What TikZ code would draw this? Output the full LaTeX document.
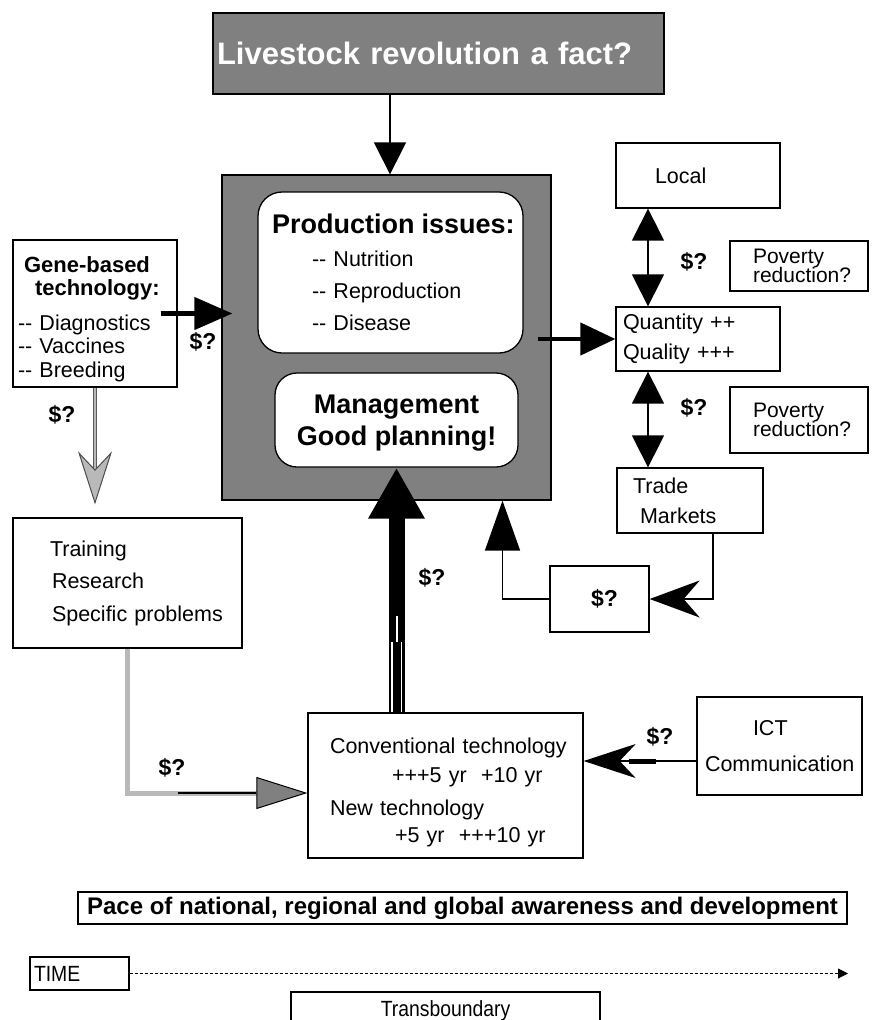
\documentclass[tikz,border=0pt]{standalone}
\usepackage{fontspec}
\setmainfont{Liberation Sans}
\newfontfamily\narrowfont[FakeStretch=0.88]{Liberation Sans}
\usetikzlibrary{arrows.meta}
\definecolor{boxgrey}{RGB}{128,128,128}
\definecolor{pathgrey}{RGB}{185,185,185}
\setlength{\lineskiplimit}{-30pt}

\begin{document}
\begin{tikzpicture}[x=1pt,y=-1pt,
    price/.style={font=\bfseries\fontsize{23pt}{23pt}\selectfont,inner sep=0pt},
    link/.style={line width=1.5pt},
    bighead/.style={-{Triangle[length=32pt,width=32pt]}},
    twohead/.style={{Triangle[length=32pt,width=32pt]}-{Triangle[length=32pt,width=32pt]}}]
    \tikzstyle{box}=[draw,fill=white,line width=1.3pt,inner xsep=4pt,inner ysep=0pt,align=left,
        font=\fontsize{21.5pt}{30pt}\selectfont]
    \tikzstyle{roundbox}=[box,rounded corners=24pt]
    \tikzstyle{tight}=[font={\fontsize{21pt}{18.5pt}\selectfont\lineskiplimit=-30pt\lineskip=0pt}]

    \useasboundingbox (0,0) rectangle (874,1020);

    \node[box,fill=boxgrey,text=white,minimum width=451pt,minimum height=81pt,text width=443pt,
        font=\bfseries\fontsize{31pt}{31pt}\selectfont] (title) at (438.5,53.5) {Livestock revolution a fact?};
    \node[box,fill=boxgrey,minimum width=329pt,minimum height=325pt] (centre) at (386.5,337.5) {};
    \node[roundbox,minimum width=265pt,minimum height=161pt,text width=257pt,
        font=\fontsize{21.5pt}{32pt}\selectfont] (prod) at (390.5,272.5)
        {\hspace*{10pt}{\bfseries\fontsize{27pt}{32pt}\selectfont Production issues:}\\[1pt]
         \hspace*{50pt}-{}- Nutrition\\ \hspace*{50pt}-{}- Reproduction\\ \hspace*{50pt}-{}- Disease};
    \node[roundbox,rounded corners=22pt,minimum width=243pt,minimum height=94pt,align=center,
        font=\bfseries\fontsize{27pt}{32pt}\selectfont] (mgmt) at (396.5,420) {\rule{0pt}{24pt}Management\\Good planning!};

    \node[box,minimum width=164pt,minimum height=147pt,text width=156pt,
        font=\fontsize{21.5pt}{23.5pt}\selectfont] (gene) at (95,313.5)
        {\rule{0pt}{27pt}\hspace*{7pt}{\bfseries\fontsize{22pt}{23.5pt}\selectfont Gene-based}\\
         \hspace*{18pt}{\bfseries\fontsize{22pt}{23.5pt}\selectfont technology:}\\[11pt]
         \hspace*{1pt}-{}- Diagnostics\\ \hspace*{1pt}-{}- Vaccines\\ \hspace*{1pt}-{}- Breeding};
    \node[box,minimum width=229pt,minimum height=130pt,text width=221pt,
        font=\fontsize{21.5pt}{32.5pt}\selectfont] (training) at (127.5,583)
        {\hspace*{33pt}Training\\ \hspace*{35pt}Research\\ \hspace*{35pt}Specific problems};
    \node[box,minimum width=275pt,minimum height=145pt,text width=267pt] (conv) at (445.5,785.5)
        {\rule{0pt}{30pt}\hspace*{18pt}Conventional technology\\[-1pt] \hspace*{80pt}+++5 yr\ \ +10 yr\\[3pt]
         \hspace*{18pt}New technology\\[-3pt] \hspace*{83pt}+5 yr\ \ +++10 yr};
    \node[box,minimum width=165pt,minimum height=98pt,text width=157pt] (ict) at (779.5,746)
        {\hspace*{52pt}ICT\\[6pt]\hspace*{4pt}Communication};

    \node[box,minimum width=164pt,minimum height=65pt,text width=156pt] (local) at (698,175.5) {\hspace*{35pt}Local};
    \node[box,minimum width=164pt,minimum height=64pt,text width=156pt] (quantity) at (698,339)
        {\hspace*{3pt}Quantity ++\\ \hspace*{3pt}Quality +++};
    \node[box,minimum width=146pt,minimum height=65pt,text width=138pt] (trade) at (690,500.5)
        {\hspace*{12pt}Trade\\ \hspace*{19pt}Markets};
    \node[box,tight,minimum width=138pt,minimum height=50pt,text width=130pt] (poverty1) at (799,266)
        {\hspace*{19pt}Poverty\\ \hspace*{19pt}reduction?};
    \node[box,tight,minimum width=138pt,minimum height=66pt,text width=130pt] (poverty2) at (799,420)
        {\hspace*{19pt}Poverty\\ \hspace*{19pt}reduction?};
    \node[box,minimum width=99pt,minimum height=66pt,text width=91pt,
        font=\bfseries\fontsize{23pt}{23pt}\selectfont] (moneybox) at (599.5,599) {\hspace*{37pt}\$?};

    \node[box,minimum width=769pt,minimum height=32pt,
        font=\bfseries\fontsize{24pt}{24pt}\selectfont] (pace) at (462.5,908)
        {Pace of national, regional and global awareness and development};
    \node[box,minimum width=99pt,minimum height=33pt,text width=91pt,
        font=\narrowfont\fontsize{22pt}{22pt}\selectfont] (time) at (79.5,973.5) {TIME};
    \node[box,minimum width=309pt,minimum height=40pt,align=center,
        font=\narrowfont\fontsize{22pt}{22pt}\selectfont] (trans) at (445.5,1012) {\raisebox{7pt}{Transboundary}};

    \node[price] (geneprice) at (203,342) {\$?};
    \node[price] (trainprice) at (62,415) {\$?};
    \node[price] (localprice) at (694,262) {\$?};
    \node[price] (tradeprice) at (694,408) {\$?};
    \node[price] (convprice) at (432,578) {\$?};
    \node[price] (skillprice) at (172,768) {\$?};
    \node[price] (ictprice) at (660,737) {\$?};

    \draw[link,bighead] ([xshift=3.5pt]centre.north |- title.south) -- ([xshift=3.5pt]centre.north);
    \draw[line width=4.5pt,-{Triangle[length=38pt,width=32pt]}] ([xshift=-17pt]gene.east) -- ([xshift=11pt]gene.east -| centre.west);
    \draw[line width=4.5pt,-{Triangle[length=35pt,width=32pt]}] ([xshift=-14pt]centre.east |- quantity.west) -- (quantity.west);

    \coordinate (genetip) at ([yshift=13pt]gene.south |- training.north);
    \draw[draw=gray!70!black,double=pathgrey,double distance=2pt,line width=1pt,
        -{Stealth[length=53pt,width=34pt,inset=18pt,color=gray!60!black,fill=pathgrey,line width=1pt]}] (gene.south) -- (genetip);

    \draw[line width=5pt,pathgrey,-{Triangle[length=51pt,width=32pt,color=black,fill=boxgrey,line width=1pt]}]
        (training.south) |- ([yshift=-7.5pt]conv.west);
    \draw[line width=2.5pt] ([xshift=50pt,yshift=-7.5pt]training.south |- conv.west) -- ([xshift=-51pt,yshift=-7.5pt]conv.west);

    \draw[line width=16pt,-{Triangle[length=51pt,width=53pt]}] (mgmt.south |- conv.north) -- (mgmt.south);
    \draw[white,line width=2pt] ([yshift=96pt]mgmt.south |- conv.north) -- ([yshift=70pt]mgmt.south |- conv.north);
    \draw[white,line width=1.5pt] ([xshift=-4.5pt,yshift=70pt]mgmt.south |- conv.north) -- ([xshift=-4.5pt]mgmt.south |- conv.north);
    \draw[white,line width=1.5pt] ([xshift=5pt,yshift=70pt]mgmt.south |- conv.north) -- ([xshift=5pt]mgmt.south |- conv.north);

    \draw[link,-{Triangle[length=50pt,width=35pt]}] (moneybox.west) -| ([xshift=116pt]centre.south);
    \draw[link,-{Stealth[length=50pt,width=37pt,inset=16pt]}] ([xshift=23pt]trade.south) |- (moneybox.east);

    \draw[link,twohead] ([xshift=-50pt]local.south) -- ([xshift=-50pt]quantity.north);
    \draw[link,twohead] ([xshift=-50pt]quantity.south) -- ([xshift=-50pt]quantity.south |- trade.north);

    \draw[link,-{Stealth[length=52pt,width=34pt,inset=16pt]}] ([yshift=-15pt]ict.west) -- ([yshift=-15pt]ict.west -| conv.east);
    \draw[line width=5pt] ([xshift=-40pt,yshift=-15pt]ict.west) -- ([xshift=45pt,yshift=-15pt]ict.west -| conv.east);

    \coordinate (timeend) at (848,973.5);
    \draw[line width=1pt,dash pattern=on 3pt off 2pt,-{Triangle[length=10pt,width=10pt]}] (time.east) -- (timeend);

  \end{tikzpicture}
\end{document}
